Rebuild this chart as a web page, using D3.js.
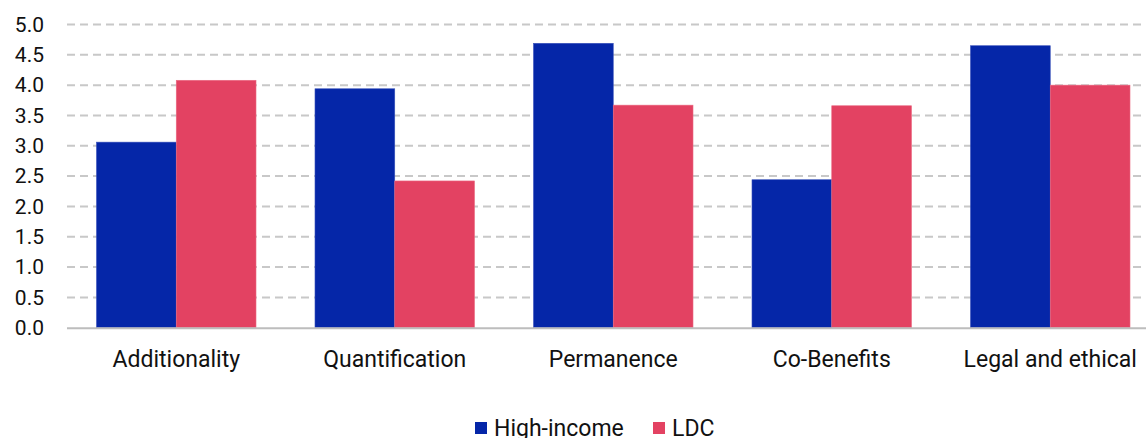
<!DOCTYPE html>
<html>
<head>
<meta charset="utf-8">
<script src="https://cdn.jsdelivr.net/npm/d3@7"></script>
<style>
  html, body { margin: 0; padding: 0; background: #fff; }
  svg { display: block; font-family: Roboto, "Noto Sans", sans-serif; }
</style>
</head>
<body>
<svg id="chart" width="1146" height="438"></svg>
<script>
// Criteria scored for each group of countries
const categories = ["Additionality", "Quantification", "Permanence", "Co-Benefits", "Legal and ethical"];
const seriesNames = ["High-income", "LDC"];
const highIncome = [3.06, 3.94, 4.69, 2.44, 4.65];
const ldc = [4.08, 2.42, 3.67, 3.66, 4.00];
const yTicks = [0, 0.5, 1, 1.5, 2, 2.5, 3, 3.5, 4, 4.5, 5];
const colors = ["#0526A8", "#E34262"];

const svg = d3.select("#chart");
const W = 1146;
const plotLeft = 67, step = 218.5;

const x0 = d3.scaleBand()
  .domain(categories)
  .range([plotLeft, plotLeft + step * categories.length])
  .paddingInner(0.27)
  .paddingOuter(0.135);

const x1 = d3.scaleBand()
  .domain(seriesNames)
  .range([0, x0.bandwidth()])
  .padding(0);

const y = d3.scaleLinear()
  .domain([0, 5])
  .range([327.7, 24.5]);

// Dashed horizontal gridlines
svg.append("g")
  .selectAll("line")
  .data(yTicks.filter(d => d > 0))
  .join("line")
  .attr("x1", plotLeft)
  .attr("x2", W)
  .attr("y1", d => y(d))
  .attr("y2", d => y(d))
  .attr("stroke", "#c8c8c8")
  .attr("stroke-width", 2)
  .attr("stroke-dasharray", "8,5");

// Y-axis tick labels
const yAxis = d3.axisLeft(y).tickValues(yTicks).tickFormat(d3.format(".1f")).tickSize(0).tickPadding(0);
const gy = svg.append("g").attr("transform", "translate(44,0)").call(yAxis);
gy.select(".domain").remove();
gy.selectAll("text")
  .attr("font-size", 21)
  .attr("fill", "#111")
  .attr("font-family", "Roboto, sans-serif");

// Bars
const rows = categories.map((c, i) => ({ cat: c, values: [highIncome[i], ldc[i]] }));
const groups = svg.append("g")
  .selectAll("g")
  .data(rows)
  .join("g")
  .attr("transform", d => `translate(${x0(d.cat)},0)`);

groups.selectAll("rect")
  .data(d => d.values.map((v, j) => ({ key: seriesNames[j], v, j })))
  .join("rect")
  .attr("x", d => x1(d.key))
  .attr("width", x1.bandwidth())
  .attr("y", d => y(d.v))
  .attr("height", d => y(0) - y(d.v))
  .attr("fill", d => colors[d.j])
  .attr("stroke", d => d.j === 0 ? "#3a52bb" : "#ea6a82")
  .attr("stroke-width", 0.6);

// Baseline
svg.append("line")
  .attr("x1", plotLeft)
  .attr("x2", W)
  .attr("y1", y(0) + 0.5)
  .attr("y2", y(0) + 0.5)
  .attr("stroke", "#bdbdbd")
  .attr("stroke-width", 2);

// Category labels
const xAxis = d3.axisBottom(x0).tickSize(0).tickPadding(0);
const gx = svg.append("g").attr("transform", `translate(0,${y(0)})`).call(xAxis);
gx.select(".domain").remove();
gx.selectAll("text")
  .attr("dy", 0)
  .attr("y", 39)
  .attr("font-size", 23)
  .attr("fill", "#111")
  .attr("font-family", "Roboto, sans-serif");

// Legend
const legendItems = [
  { name: seriesNames[0], color: colors[0], x: 475 },
  { name: seriesNames[1], color: colors[1], x: 653 }
];
const lg = svg.append("g")
  .selectAll("g")
  .data(legendItems)
  .join("g")
  .attr("transform", d => `translate(${d.x},422)`);
lg.append("rect")
  .attr("width", 12)
  .attr("height", 12)
  .attr("fill", d => d.color);
lg.append("text")
  .attr("x", 19)
  .attr("y", 14)
  .attr("font-size", 23)
  .attr("fill", "#111")
  .text(d => d.name);
</script>
</body>
</html>
